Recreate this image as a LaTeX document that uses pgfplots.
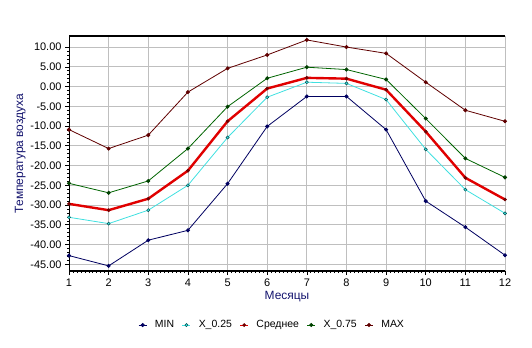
\documentclass[border=0pt]{standalone}
\usepackage{pgfplots}
\pgfplotsset{compat=1.18}
\usepackage{fontspec}
\setmainfont{Liberation Sans}
\definecolor{cmin}{RGB}{0,0,96}
\definecolor{cq1}{RGB}{64,224,224}
\definecolor{cq1m}{RGB}{0,80,80}
\definecolor{cmean}{RGB}{224,0,0}
\definecolor{cmeanm}{RGB}{112,0,0}
\definecolor{cq3}{RGB}{0,100,0}
\definecolor{cq3m}{RGB}{0,64,0}
\definecolor{cmax}{RGB}{96,0,0}
\definecolor{lab}{RGB}{20,20,110}
\begin{document}
\begin{tikzpicture}[x=1bp,y=1bp]
\useasboundingbox (0,0) rectangle (532,347);
\begin{axis}[
  at={(69bp,76bp)}, anchor=south west,
  scale only axis, width=436bp, height=235bp,
  xmin=1, xmax=12, ymin=-46.7, ymax=12.8,
  xtick={1,...,12}, ytick={-45,-40,...,10},
  minor x tick num=9, minor y tick num=4,
  tick pos=left, tick align=outside,
  major tick length=4bp, minor tick length=2bp,
  tick style={black, line width=0.6bp},
  grid=major, major grid style={draw=black!25, line width=0.8bp},
  axis line style={draw=none},
  font=\fontsize{11}{13}\selectfont,
  yticklabel style={/pgf/number format/.cd, fixed, fixed zerofill, precision=2, assume math mode=true},
  xticklabel style={/pgf/number format/assume math mode=true},
  xlabel={Месяцы}, ylabel={Температура воздуха},
  label style={text=lab, font=\fontsize{12}{14}\selectfont},
  xlabel style={yshift=2bp},
  ylabel style={yshift=-2bp},
  legend columns=5,
  legend style={at={(0.466,-0.23)}, anchor=center, draw=none, fill=none,
    font=\fontsize{10.5}{12}\selectfont, column sep=6bp},
  legend image code/.code={\draw[#1, line width=0.6bp] (0bp,0bp) -- (8bp,0bp); \draw[#1, only marks] plot coordinates {(4bp,0bp)};},
]
\addplot[cmin, line width=0.8bp, mark=*, mark size=1.6bp, mark options={fill=cmin, draw=cmin}] coordinates {
(1,-42.8) (2,-45.4) (3,-38.9) (4,-36.4) (5,-24.6) (6,-10.1) (7,-2.5) (8,-2.5) (9,-10.9) (10,-29.0) (11,-35.6) (12,-42.7)};
\addlegendentry{MIN}
\addplot[cq1, line width=0.8bp, mark=*, mark size=1.6bp, mark options={fill=cq1, draw=cq1m, line width=0.5bp}] coordinates {
(1,-33.1) (2,-34.7) (3,-31.3) (4,-25.0) (5,-12.9) (6,-2.7) (7,1.1) (8,0.8) (9,-3.3) (10,-15.9) (11,-26.1) (12,-32.1)};
\addlegendentry{X\_0.25}
\addplot[cmean, line width=2.4bp, mark=*, mark size=1.6bp, mark options={fill=cmeanm, draw=cmeanm, line width=0.5bp}] coordinates {
(1,-29.7) (2,-31.3) (3,-28.4) (4,-21.3) (5,-8.8) (6,-0.5) (7,2.2) (8,2.0) (9,-0.8) (10,-11.4) (11,-23.1) (12,-28.6)};
\addlegendentry{Среднее}
\addplot[cq3, line width=0.8bp, mark=*, mark size=1.6bp, mark options={fill=cq3m, draw=cq3m}] coordinates {
(1,-24.5) (2,-26.9) (3,-23.9) (4,-15.7) (5,-5.1) (6,2.1) (7,4.9) (8,4.3) (9,1.8) (10,-8.1) (11,-18.2) (12,-23.0)};
\addlegendentry{X\_0.75}
\addplot[cmax, line width=0.8bp, mark=*, mark size=1.6bp, mark options={fill=cmax, draw=cmax}] coordinates {
(1,-10.9) (2,-15.7) (3,-12.3) (4,-1.4) (5,4.6) (6,8.0) (7,11.8) (8,10.0) (9,8.4) (10,1.1) (11,-6.0) (12,-8.8)};
\addlegendentry{MAX}
\draw[black, line width=1.2bp] (rel axis cs:0,0) -- (rel axis cs:0,1) -- (rel axis cs:1,1);
\draw[black, line width=1.2bp] (rel axis cs:0,0) -- (rel axis cs:1,0);
\end{axis}
\end{tikzpicture}
\end{document}
